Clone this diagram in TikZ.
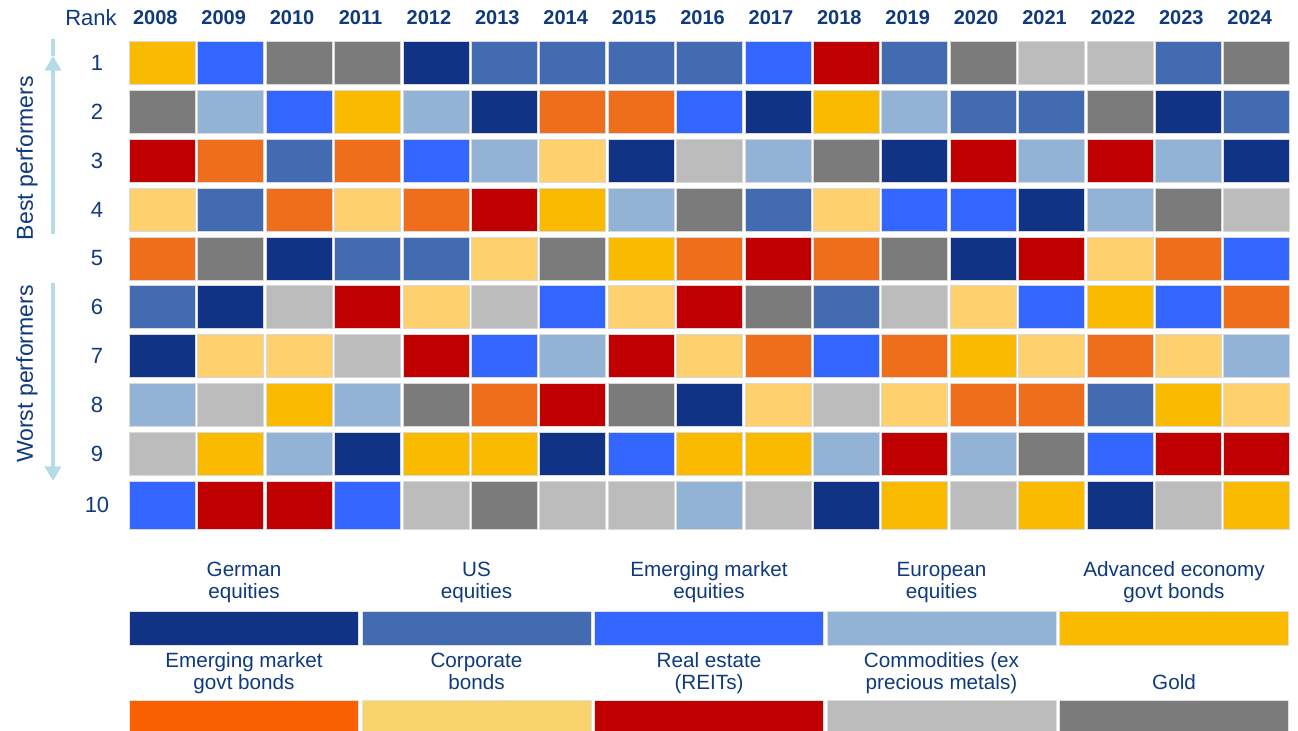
\documentclass[tikz,border=0pt]{standalone}
\usepackage{fontspec}
\setmainfont{Liberation Sans}
\usetikzlibrary{calc,arrows.meta}

% Couleurs des classes d'actifs
\definecolor{cGer}{HTML}{113385}
\definecolor{cUS}{HTML}{436BB2}
\definecolor{cEMeq}{HTML}{3366FF}
\definecolor{cEUeq}{HTML}{93B3D6}
\definecolor{cAdvB}{HTML}{F9BA00}
\definecolor{cEMB}{HTML}{EE6E1C}
\definecolor{cEMBkey}{HTML}{F96000}
\definecolor{cCorp}{HTML}{FED06E}
\definecolor{cCorpkey}{HTML}{F9D36C}
\definecolor{cREIT}{HTML}{C00000}
\definecolor{cComm}{HTML}{BCBCBC}
\definecolor{cGold}{HTML}{7B7B7B}
\definecolor{cTexte}{HTML}{0F3A7E}
\definecolor{cFleche}{HTML}{B5DCE6}

\newcommand{\yearfont}{\fontsize{15}{18}\selectfont\bfseries}
\newcommand{\numfont}{\fontsize{16.5}{19}\selectfont}
\newcommand{\sidefont}{\fontsize{17.3}{20}\selectfont}
\newcommand{\keyfont}{\fontsize{15.5}{17}\selectfont}

\begin{document}
\begin{tikzpicture}[%
    x=0.75pt, y=-0.75pt,%
    txt/.style={text=cTexte, inner sep=0pt},%
    cell/.style={draw=black!15, line width=0.4pt},%
    keybar/.style={draw=black!12, line width=0.4pt},%
    keytxt/.style={txt, align=center, anchor=south, font=\keyfont, execute at end node={\strut}},%
    perf/.style={draw=cFleche, line width=3pt},%
    ]
    \path[use as bounding box, fill=white] (0,0) rectangle (1298,731);

    %
    % Définitions
    %
    \pgfmathsetmacro{\xa}{129.3};%
    \pgfmathsetmacro{\dx}{68.4};%
    \pgfmathsetmacro{\wc}{66};%
    \pgfmathsetmacro{\ya}{41.7};%
    \pgfmathsetmacro{\dy}{48.8};%
    \pgfmathsetmacro{\hc}{43};%

    % En-tête
    \node[txt, font=\numfont] (rank) at (91,18) {Rank};
    \foreach \an [count=\k] in {2008,...,2024} {
        \node[txt, font=\yearfont] (an-\an) at ({\xa+\dx*(\k-1)+\wc/2-7},18) {\an};
    }

    % Grille des classements
    \foreach \ligne [count=\r] in {%
        {cAdvB,cEMeq,cGold,cGold,cGer,cUS,cUS,cUS,cUS,cEMeq,cREIT,cUS,cGold,cComm,cComm,cUS,cGold},%
        {cGold,cEUeq,cEMeq,cAdvB,cEUeq,cGer,cEMB,cEMB,cEMeq,cGer,cAdvB,cEUeq,cUS,cUS,cGold,cGer,cUS},%
        {cREIT,cEMB,cUS,cEMB,cEMeq,cEUeq,cCorp,cGer,cComm,cEUeq,cGold,cGer,cREIT,cEUeq,cREIT,cEUeq,cGer},%
        {cCorp,cUS,cEMB,cCorp,cEMB,cREIT,cAdvB,cEUeq,cGold,cUS,cCorp,cEMeq,cEMeq,cGer,cEUeq,cGold,cComm},%
        {cEMB,cGold,cGer,cUS,cUS,cCorp,cGold,cAdvB,cEMB,cREIT,cEMB,cGold,cGer,cREIT,cCorp,cEMB,cEMeq},%
        {cUS,cGer,cComm,cREIT,cCorp,cComm,cEMeq,cCorp,cREIT,cGold,cUS,cComm,cCorp,cEMeq,cAdvB,cEMeq,cEMB},%
        {cGer,cCorp,cCorp,cComm,cREIT,cEMeq,cEUeq,cREIT,cCorp,cEMB,cEMeq,cEMB,cAdvB,cCorp,cEMB,cCorp,cEUeq},%
        {cEUeq,cComm,cAdvB,cEUeq,cGold,cEMB,cREIT,cGold,cGer,cCorp,cComm,cCorp,cEMB,cEMB,cUS,cAdvB,cCorp},%
        {cComm,cAdvB,cEUeq,cGer,cAdvB,cAdvB,cGer,cEMeq,cAdvB,cAdvB,cEUeq,cREIT,cEUeq,cGold,cEMeq,cREIT,cREIT},%
        {cEMeq,cREIT,cREIT,cEMeq,cComm,cGold,cComm,cComm,cEUeq,cComm,cGer,cAdvB,cComm,cAdvB,cGer,cComm,cAdvB}%
        } {
        \pgfmathsetmacro{\yt}{\ya+\dy*(\r-1)}
        \pgfmathsetmacro{\h}{\r==10 ? 48.3 : \hc}
        \node[txt, font=\numfont] (rk-\r) at (97,\yt+\h/2) {\r};
        \foreach \c [count=\k] in \ligne {
            \pgfmathsetmacro{\xt}{\xa+\dx*(\k-1)}
            \draw[cell, fill=\c] (\xt,\yt) rectangle ++(\wc,\h);
        }
    }

    % Flèches
    \coordinate (best-top) at (53,39);
    \coordinate (best-tip) at (53,56);
    \coordinate (best-bot) at (53,234);
    \coordinate (worst-top) at (53,283);
    \coordinate (worst-tip) at (53,481);
    \draw[perf, -{Triangle[width=12pt,length=11pt]}] (best-bot) -- (best-tip);
    \draw[perf] (best-tip) -- (best-top);
    \draw[perf, -{Triangle[width=12pt,length=11pt]}] (worst-top) -- (worst-tip);
    \node[txt, font=\sidefont, rotate=90] (best) at (27,158) {Best performers};
    \node[txt, font=\sidefont, rotate=90] (worst) at (27,374) {Worst performers};

    % Légende
    \foreach \c/\lib [count=\k] in {%
        cGer/{German\\equities}, cUS/{US\\equities}, cEMeq/{Emerging market\\equities},%
        cEUeq/{European\\equities}, cAdvB/{Advanced economy\\govt bonds}} {
        \pgfmathsetmacro{\xk}{129.5+232.5*(\k-1)}
        \draw[keybar, fill=\c] (\xk,611) rectangle ++(229,34);
        \node[keytxt] (key-\k) at (\xk+114.5,606) {\lib};
    }
    \foreach \c/\lib [count=\k from 6] in {%
        cEMBkey/{Emerging market\\govt bonds}, cCorpkey/{Corporate\\bonds}, cREIT/{Real estate\\(REITs)},%
        cComm/{Commodities (ex\\precious metals)}, cGold/{Gold}} {
        \pgfmathsetmacro{\xk}{129.5+232.5*(\k-6)}
        \draw[keybar, fill=\c] (\xk,700) rectangle ++(229,31);
        \node[keytxt] (key-\k) at (\xk+114.5,697) {\lib};
    }

\end{tikzpicture}
\end{document}
